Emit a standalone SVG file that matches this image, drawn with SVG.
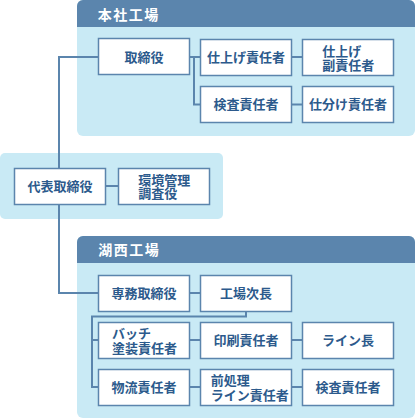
<svg xmlns="http://www.w3.org/2000/svg" width="415" height="419" viewBox="0 0 415 419">
<style>
.panel{fill:#c9eaf5}
.head{fill:#5b85ad}
.htxt{fill:#ffffff;font-family:"Noto Sans CJK JP","Noto Sans",sans-serif;font-size:14px;font-weight:bold;letter-spacing:1.5px}
.box{fill:#ffffff;stroke:#5b85ad;stroke-width:1.5}
.t{fill:#2c5a8c;font-family:"Noto Sans CJK JP","Noto Sans",sans-serif;font-size:13px;font-weight:bold}
.c{text-anchor:middle}
.ln{fill:none;stroke:#5b85ad;stroke-width:2}
</style>
<g id="panel-honsha">
<rect class="panel" x="77" y="0" width="338" height="136" rx="6"/>
<path class="head" d="M77 27 V6 A6 6 0 0 1 83 0 H409 A6 6 0 0 1 415 6 V27 Z"/>
<text class="htxt" x="97.7" y="19.6">本社工場</text>
</g>
<g id="panel-daihyo">
<rect class="panel" x="0" y="153" width="223" height="66" rx="5"/>
</g>
<g id="panel-kosai">
<rect class="panel" x="77" y="236" width="338" height="182" rx="6"/>
<path class="head" d="M77 263 V242 A6 6 0 0 1 83 236 H409 A6 6 0 0 1 415 242 V263 Z"/>
<text class="htxt" x="98.3" y="254.6">湖西工場</text>
</g>
<g id="connectors">
<path class="ln" d="M59 57 H98.5"/>
<path class="ln" d="M59 56 V168.5"/>
<path class="ln" d="M59 204.5 V293 H98.5"/>
<path class="ln" d="M189.5 57 H200.5 M194 57 V104.5 H200.5"/>
<path class="ln" d="M291.5 57 H302.5 M291.5 104.5 H302.5"/>
<path class="ln" d="M105.5 186 H118.5"/>
<path class="ln" d="M189.5 293 H200.5"/>
<path class="ln" d="M246 311.5 V316.5 H92 V387 H98.5 M92 340 H98.5"/>
<path class="ln" d="M189.5 340 H200.5 M291.5 340 H302.5"/>
<path class="ln" d="M189.5 387 H200.5 M291.5 387 H302.5"/>
</g>
<g id="n-torishimariyaku"><rect class="box" x="98.5" y="38.5" width="91" height="36"/><text class="t c" x="144" y="61.5">取締役</text></g>
<g id="n-shiage"><rect class="box" x="200.5" y="39.5" width="91" height="36"/><text class="t c" x="246" y="62.4">仕上げ責任者</text></g>
<g id="n-shiage-fuku"><rect class="box" x="302.5" y="39.5" width="91" height="36"/><text class="t" x="322.3" y="55.6">仕上げ</text><text class="t" x="322.3" y="69.9">副責任者</text></g>
<g id="n-kensa1"><rect class="box" x="200.5" y="86.5" width="91" height="36"/><text class="t c" x="246" y="109.4">検査責任者</text></g>
<g id="n-shiwake"><rect class="box" x="302.5" y="86.5" width="91" height="36"/><text class="t c" x="348" y="109.4">仕分け責任者</text></g>
<g id="n-daihyo"><rect class="box" x="14.5" y="168.5" width="91" height="36"/><text class="t c" x="60" y="190.9">代表取締役</text></g>
<g id="n-kankyo"><rect class="box" x="118.5" y="168.5" width="91" height="36"/><text class="t" x="138.3" y="185">環境管理</text><text class="t" x="138.3" y="198.2">調査役</text></g>
<g id="n-senmu"><rect class="box" x="98.5" y="275.5" width="91" height="36"/><text class="t c" x="144" y="297.9">専務取締役</text></g>
<g id="n-jicho"><rect class="box" x="200.5" y="275.5" width="91" height="36"/><text class="t c" x="246" y="297.9">工場次長</text></g>
<g id="n-batch"><rect class="box" x="98.5" y="322.5" width="91" height="36"/><text class="t" x="112" y="338.2">バッチ</text><text class="t" x="112" y="353.2">塗装責任者</text></g>
<g id="n-insatsu"><rect class="box" x="200.5" y="322.5" width="91" height="36"/><text class="t c" x="246" y="344.9">印刷責任者</text></g>
<g id="n-linecho"><rect class="box" x="302.5" y="322.5" width="91" height="36"/><text class="t c" x="348" y="344.9">ライン長</text></g>
<g id="n-butsuryu"><rect class="box" x="98.5" y="369.5" width="91" height="36"/><text class="t c" x="144" y="391.9">物流責任者</text></g>
<g id="n-maeshori"><rect class="box" x="200.5" y="369.5" width="91" height="36"/><text class="t" x="210.7" y="384.9">前処理</text><text class="t" x="210.7" y="399.9">ライン責任者</text></g>
<g id="n-kensa2"><rect class="box" x="302.5" y="369.5" width="91" height="36"/><text class="t c" x="348" y="391.9">検査責任者</text></g>
</svg>
